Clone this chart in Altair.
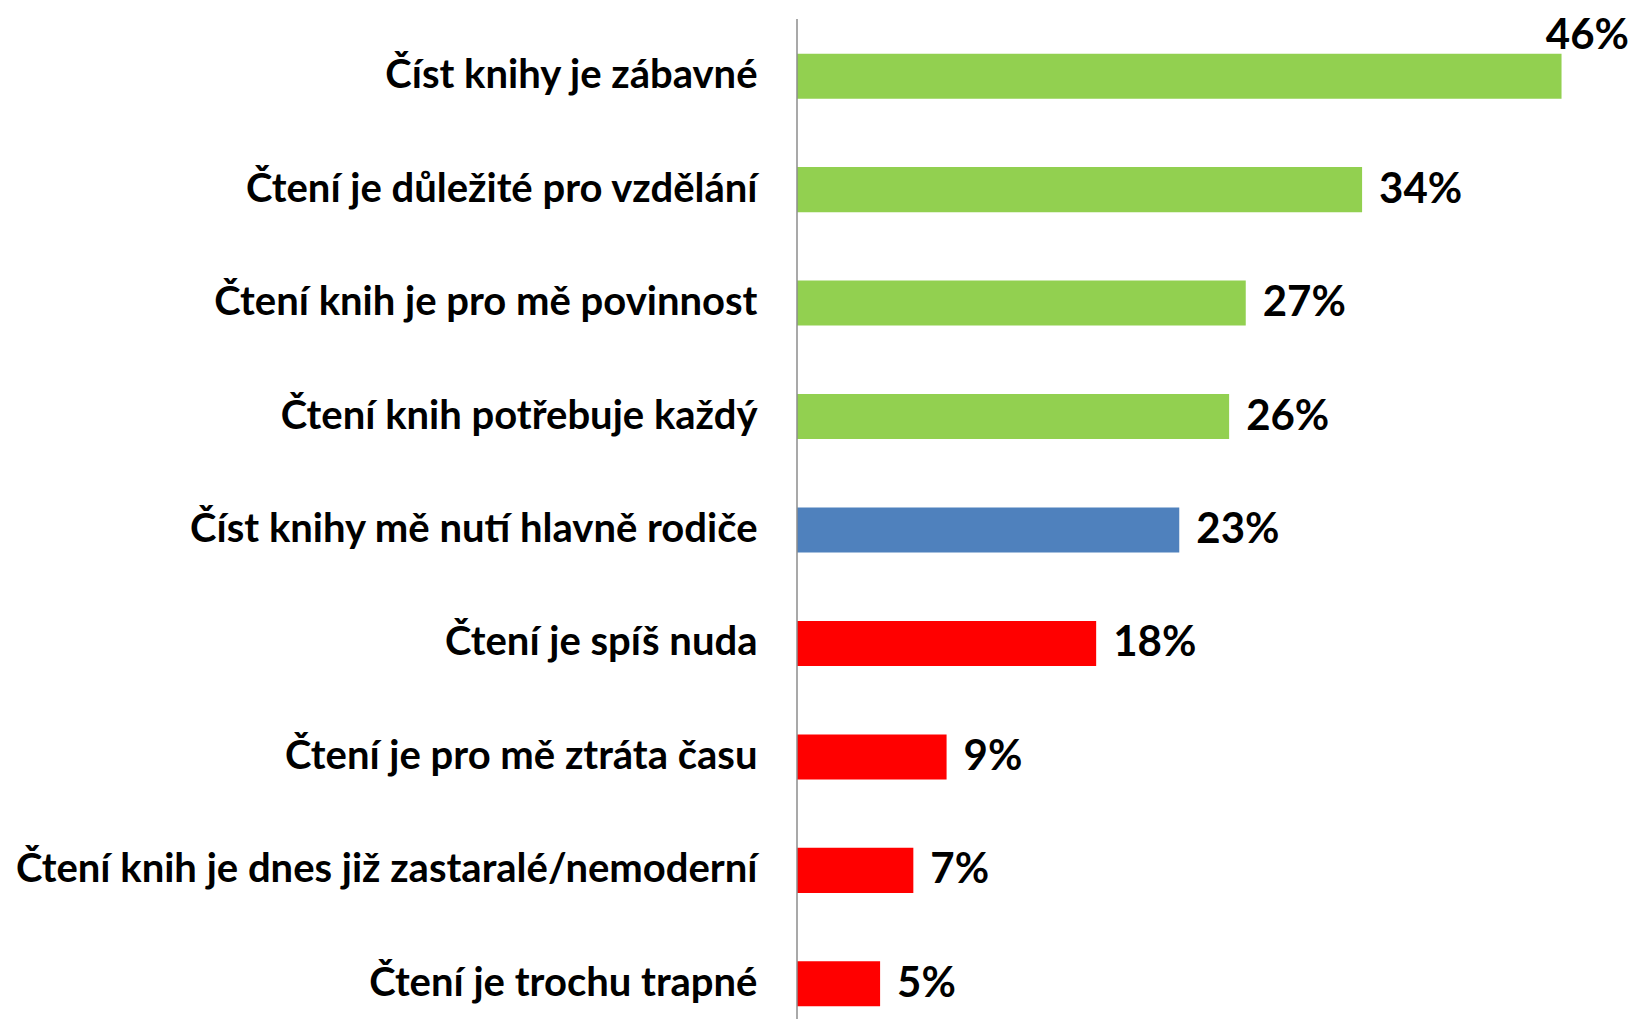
import altair as alt
import pandas as pd

categories = [
    "Číst knihy je zábavné",
    "Čtení je důležité pro vzdělání",
    "Čtení knih je pro mě povinnost",
    "Čtení knih potřebuje každý",
    "Číst knihy mě nutí hlavně rodiče",
    "Čtení je spíš nuda",
    "Čtení je pro mě ztráta času",
    "Čtení knih je dnes již zastaralé/nemoderní",
    "Čtení je trochu trapné",
]
values = [46, 34, 27, 26, 23, 18, 9, 7, 5]
groups = ["kladné"] * 4 + ["neutrální"] + ["záporné"] * 4
group_names = ["kladné", "neutrální", "záporné"]
group_colors = ["#92D050", "#4F81BD", "#FF0000"]

df = pd.DataFrame({"kategorie": categories, "hodnota": values, "skupina": groups})
df["popisek"] = df["hodnota"].astype(str) + "%"

W, H = 836, 964
FONT = "Lato"
FS = 40
FSV = 42

y = alt.Y(
    "kategorie:N",
    sort=categories,
    scale=alt.Scale(paddingInner=0.603, paddingOuter=0.05),
    axis=alt.Axis(
        title=None, domain=False, ticks=False, labelPadding=40,
        labelFont=FONT, labelFontSize=FS, labelFontWeight="bold",
        labelColor="black", labelLimit=800,
    ),
)
x = alt.X("hodnota:Q", scale=alt.Scale(domain=[0, 50.3]), axis=None)

base = alt.Chart(df)
bars = base.mark_bar().encode(
    x=x, y=y,
    color=alt.Color("skupina:N", scale=alt.Scale(domain=group_names, range=group_colors), legend=None),
)
labels = base.transform_filter("datum.hodnota < 40").mark_text(
    align="left", baseline="middle", dx=17, font=FONT, fontSize=FSV, fontWeight="bold", color="black"
).encode(x=x, y=y, text="popisek:N")
top_label = base.transform_filter("datum.hodnota >= 40").mark_text(
    align="right", baseline="middle", dy=-40, font=FONT, fontSize=FSV, fontWeight="bold", color="black"
).encode(x=alt.value(W - 4), y=y, text="popisek:N")
axis_line = alt.Chart(pd.DataFrame({"a": [0]})).mark_rule(color="#8c8c8c", strokeWidth=1.5).encode(
    x=alt.value(0), y=alt.value(-29), y2=alt.value(H + 7)
)

chart = alt.layer(bars, labels, top_label, axis_line).properties(
    width=W, height=H,
    autosize=alt.AutoSizeParams(type="none"),
    padding={"left": 789, "top": 40, "right": 0, "bottom": 8},
).configure_view(stroke=None)

chart.save("out.html", embed_options={"renderer": "svg", "actions": False})
